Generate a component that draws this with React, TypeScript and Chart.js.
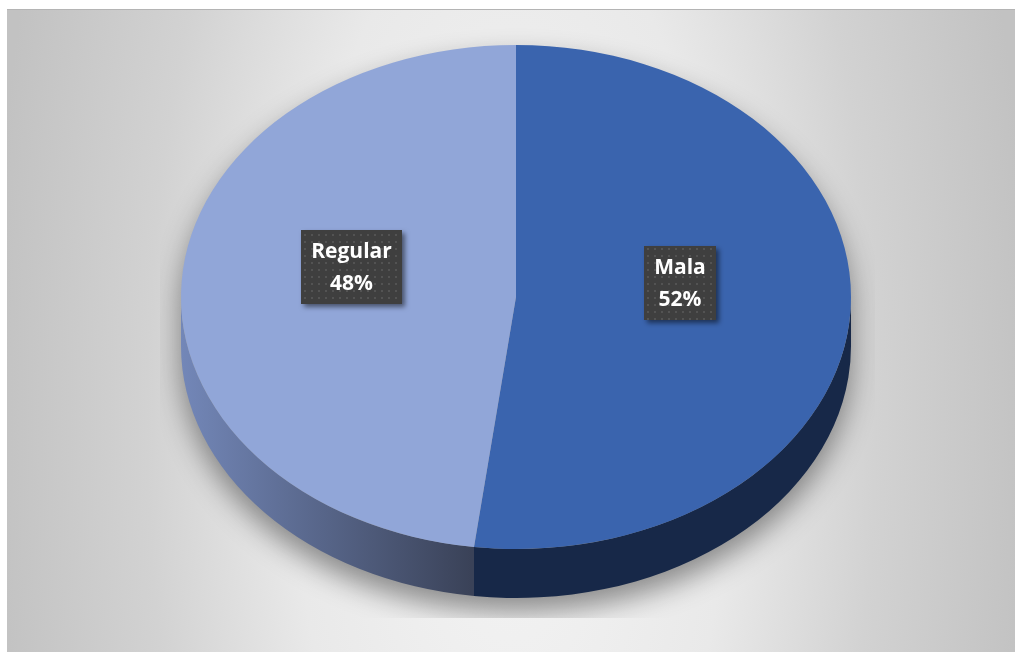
import React, { useEffect, useRef } from 'react';
import { Chart, registerables } from 'chart.js';

Chart.register(...registerables);

// ---- data ----
const categories: string[] = ['Mala', 'Regular'];
const values: number[] = [52, 48];

// ---- style / layout ----
const W = 1015;
const H = 652;
const GEO = { cx: 516, cy: 297, rx: 335, ry: 252, depth: 49 };
const TOP_COLORS = ['#3A64AE', '#91A6D8'];
const LABEL_FONT = 'bold 21px "Open Sans", "DejaVu Sans", sans-serif';

function sideRanges(s: number, e: number): [number, number][] {
  const out: [number, number][] = [];
  for (const k of [-1, 0, 1]) {
    const a = Math.max(s + k * 2 * Math.PI, 0);
    const b = Math.min(e + k * 2 * Math.PI, Math.PI);
    if (b > a) out.push([a, b]);
  }
  return out;
}

function makePattern(ctx: CanvasRenderingContext2D): CanvasPattern | string {
  const c = document.createElement('canvas');
  c.width = 7;
  c.height = 7;
  const p = c.getContext('2d');
  if (!p) return '#404040';
  p.fillStyle = '#3f3f3f';
  p.fillRect(0, 0, 7, 7);
  p.fillStyle = '#535353';
  p.fillRect(3, 3, 2, 2);
  return ctx.createPattern(c, 'repeat') || '#404040';
}

const pie3d = {
  id: 'pie3d',
  beforeDraw(chart: any) {
    const ctx: CanvasRenderingContext2D = chart.ctx;
    const { cx, cy, rx, ry, depth } = GEO;
    // background frame
    ctx.save();
    ctx.fillStyle = '#ffffff';
    ctx.fillRect(0, 0, W, H);
    ctx.beginPath();
    ctx.rect(7, 9, W - 7, H - 9);
    ctx.clip();
    ctx.translate(511, 420);
    ctx.scale(1, 2.4);
    const g = ctx.createRadialGradient(0, 0, 0, 0, 0, 520);
    g.addColorStop(0, '#f5f5f5');
    g.addColorStop(0.42, '#e9e9e9');
    g.addColorStop(0.7, '#d2d2d2');
    g.addColorStop(1, '#c2c2c2');
    ctx.fillStyle = g;
    ctx.fillRect(-700, -400, 1400, 800);
    ctx.restore();
    ctx.fillStyle = '#b4b4b4';
    ctx.fillRect(7, 9, W - 7, 1);

    // drop shadow of the pie body
    ctx.save();
    ctx.beginPath();
    ctx.rect(160, 10, 715, 608);
    ctx.clip();
    const off = 3000;
    ctx.beginPath();
    ctx.moveTo(cx - off + rx, cy);
    ctx.ellipse(cx - off, cy, rx, ry, 0, 0, 2 * Math.PI);
    ctx.moveTo(cx - off + rx, cy + depth);
    ctx.ellipse(cx - off, cy + depth, rx, ry, 0, 0, 2 * Math.PI);
    ctx.rect(cx - off - rx, cy, 2 * rx, depth);
    ctx.shadowColor = 'rgba(0,0,0,0.42)';
    ctx.shadowBlur = 28;
    ctx.shadowOffsetX = off;
    ctx.shadowOffsetY = 14;
    ctx.fillStyle = '#000';
    ctx.fill();
    ctx.restore();

    // side walls
    const meta = chart.getDatasetMeta(0);
    meta.data.forEach((arc: any, i: number) => {
      const ranges = sideRanges(arc.startAngle, arc.endAngle);
      ranges.forEach(([a0, a1]) => {
        ctx.save();
        ctx.beginPath();
        ctx.ellipse(cx, cy, rx, ry, 0, a0, a1, false);
        ctx.ellipse(cx, cy + depth, rx, ry, 0, a1, a0, true);
        ctx.closePath();
        if (i === 0) {
          ctx.fillStyle = '#172848';
        } else {
          const lg = ctx.createLinearGradient(cx - rx, 0, cx - 45, 0);
          lg.addColorStop(0, '#7387b8');
          lg.addColorStop(1, '#3a4258');
          ctx.fillStyle = lg;
        }
        ctx.fill();
        ctx.restore();
      });
    });
  },
  beforeDatasetsDraw(chart: any) {
    const ctx: CanvasRenderingContext2D = chart.ctx;
    const meta = chart.getDatasetMeta(0);
    const arc = meta.data[0];
    const { cx, cy, rx, ry } = GEO;
    ctx.save();
    ctx.translate(cx, cy);
    ctx.scale(rx / arc.outerRadius, ry / arc.outerRadius);
    ctx.translate(-arc.x, -arc.y);
  },
  afterDatasetsDraw(chart: any) {
    const ctx: CanvasRenderingContext2D = chart.ctx;
    ctx.restore();
    const { cx, cy, rx, ry } = GEO;
    const meta = chart.getDatasetMeta(0);
    const total = values.reduce((a, b) => a + b, 0);
    const pattern = makePattern(ctx);
    meta.data.forEach((arc: any, i: number) => {
      const mid = (arc.startAngle + arc.endAngle) / 2;
      const px = cx + rx * 0.492 * Math.cos(mid);
      const py = cy + ry * 0.492 * Math.sin(mid) - 22;
      const l1 = categories[i];
      const l2 = Math.round((values[i] / total) * 100) + '%';
      ctx.save();
      ctx.font = LABEL_FONT;
      const tw = Math.max(ctx.measureText(l1).width, ctx.measureText(l2).width);
      const bw = Math.round(tw + 20);
      const bh = 74;
      const bx = Math.round(px - bw / 2);
      const by = Math.round(py - bh / 2);
      ctx.shadowColor = 'rgba(0,0,0,0.5)';
      ctx.shadowBlur = 5;
      ctx.shadowOffsetX = 3;
      ctx.shadowOffsetY = 3;
      ctx.fillStyle = pattern as any;
      ctx.fillRect(bx, by, bw, bh);
      ctx.shadowColor = 'transparent';
      ctx.fillStyle = '#ffffff';
      ctx.textAlign = 'center';
      ctx.textBaseline = 'middle';
      ctx.fillText(l1, bx + bw / 2, by + 22);
      ctx.fillText(l2, bx + bw / 2, by + 54);
      ctx.restore();
    });
  },
};

export default function App() {
  const ref = useRef<HTMLCanvasElement | null>(null);
  useEffect(() => {
    document.body.style.margin = '0';
    if (!ref.current) return;
    const chart = new Chart(ref.current, {
      type: 'pie',
      data: {
        labels: categories,
        datasets: [
          {
            data: values,
            backgroundColor: TOP_COLORS,
            borderWidth: 0,
            clip: false as any,
          },
        ],
      },
      options: {
        responsive: false,
        animation: false,
        events: [],
        layout: { padding: 0 },
        plugins: {
          legend: { display: false },
          tooltip: { enabled: false },
        },
      },
      plugins: [pie3d],
    });
    return () => chart.destroy();
  }, []);
  return (
    <canvas
      ref={ref}
      width={W}
      height={H}
      style={{ display: 'block', width: W, height: H }}
    />
  );
}
